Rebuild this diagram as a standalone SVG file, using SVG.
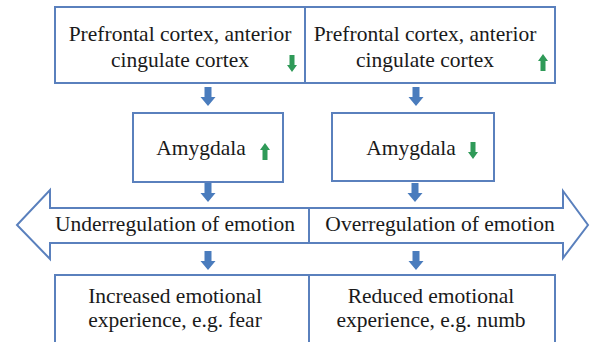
<svg xmlns="http://www.w3.org/2000/svg" width="596" height="342" viewBox="0 0 596 342">
<defs>
<style>
.box{fill:#fff;stroke:#5a80bd;stroke-width:2}
.t{font-size:21.5px;fill:#1a1a1a;text-anchor:middle}
.blue{fill:#4a7cbd}
.green{fill:#2f9a58}
</style>
<path id="ba" d="M-3.5,0 H3.5 V10 H7.5 L0,19 L-7.5,10 H-3.5 Z"/>
<path id="gd" d="M-2.5,0 H2.5 V10 H5 L0,17 L-5,10 H-2.5 Z"/>
</defs>
<rect width="596" height="342" fill="#fff"/>
<g font-family="'Liberation Serif', 'Times New Roman', 'DejaVu Serif', serif">
<g id="pfc-left">
<rect class="box" x="55" y="7" width="250" height="76"/>
<text class="t" x="180" y="41">Prefrontal cortex, anterior</text>
<text class="t" x="180" y="67">cingulate cortex</text>
<use href="#gd" class="green" x="292" y="55"/>
</g>
<g id="pfc-right">
<rect class="box" x="305" y="7" width="250" height="76"/>
<text class="t" x="425" y="41">Prefrontal cortex, anterior</text>
<text class="t" x="425" y="67">cingulate cortex</text>
<use href="#gd" class="green" transform="translate(543,71) scale(1,-1)"/>
</g>
<g id="amygdala-left">
<rect class="box" x="133" y="113" width="150" height="69"/>
<text class="t" x="201" y="155">Amygdala</text>
<use href="#gd" class="green" transform="translate(265,160) scale(1,-1)"/>
</g>
<g id="amygdala-right">
<rect class="box" x="332" y="113" width="162" height="68"/>
<text class="t" x="411" y="155">Amygdala</text>
<use href="#gd" class="green" x="473" y="142"/>
</g>
<g id="underregulation">
<path class="box" d="M309,208 H50 V190 L17,225 L50,259 V243 H309 Z"/>
<text class="t" x="175" y="231">Underregulation of emotion</text>
</g>
<g id="overregulation">
<path class="box" d="M309,208 H563 V191 L588,225 L563,258 V243 H309 Z"/>
<text class="t" x="440" y="231">Overregulation of emotion</text>
</g>
<g id="outcome-left">
<rect class="box" x="55" y="275" width="254" height="80"/>
<text class="t" x="175" y="303">Increased emotional</text>
<text class="t" x="175" y="327">experience, e.g. fear</text>
</g>
<g id="outcome-right">
<rect class="box" x="309" y="275" width="246" height="80"/>
<text class="t" x="431" y="303">Reduced emotional</text>
<text class="t" x="431" y="327">experience, e.g. numb</text>
</g>
</g>
<g id="connectors" class="blue">
<use href="#ba" x="208" y="87"/>
<use href="#ba" x="416" y="87"/>
<use href="#ba" x="208" y="183"/>
<use href="#ba" x="415" y="183"/>
<use href="#ba" x="208" y="251"/>
<use href="#ba" x="416" y="251"/>
</g>
</svg>
